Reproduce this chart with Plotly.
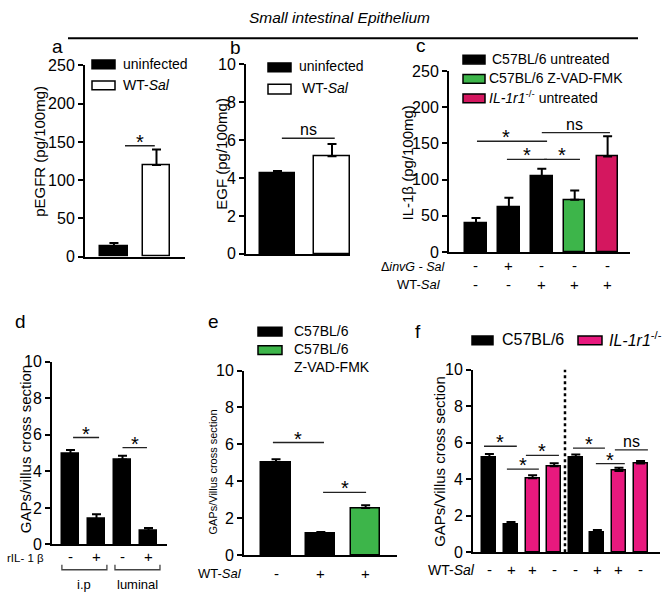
import plotly.graph_objects as go

W, H = 663, 604
FONT = "Liberation Sans, Arial, sans-serif"

# ---------------- data ----------------
a_groups = ["uninfected", "WT-<i>Sal</i>"]
a_vals = [14, 120]
a_err = [4, 20]

b_groups = ["uninfected", "WT-<i>Sal</i>"]
b_vals = [4.25, 5.15]
b_err = [0.12, 0.65]

c_groups = ["C57BL/6 untreated", "C57BL/6 Z-VAD-FMK", "<i>IL-1r1</i><sup>-/-</sup> untreated"]
c_vals = [40, 62, 105, 72, 132]
c_err = [7, 13, 10, 13, 28]
c_invg = ["-", "+", "-", "-", "-"]
c_wt = ["-", "-", "+", "+", "+"]

d_vals = [4.95, 1.4, 4.65, 0.75]
d_err = [0.22, 0.25, 0.2, 0.15]
d_ril = ["-", "+", "-", "+"]
d_routes = ["i.p", "luminal"]

e_groups = ["C57BL/6", "C57BL/6<br>Z-VAD-FMK"]
e_vals = [5.0, 1.15, 2.55]
e_err = [0.2, 0.1, 0.15]
e_wt = ["-", "+", "+"]

f_groups = ["C57BL/6", "<i>IL-1r1</i><sup>-/-</sup>"]
f_vals = [5.2, 1.5, 4.05, 4.7, 5.2, 1.1, 4.45, 4.85]
f_err = [0.18, 0.15, 0.17, 0.17, 0.15, 0.12, 0.17, 0.15]
f_wt = ["-", "+", "+", "-", "-", "+", "+", "-"]
f_conditions = ["Intra-luminal<br>infection<br>1 hour", "2 Days post<br>Oral infection"]

BLACK = "#000000"
GREEN = "#3DB54A"
PINK_C = "#D4175F"
PINK_F = "#E8197E"

def px(x):
    return x / W

def py(y):
    return 1 - y / H

fig = go.Figure()
shapes = []
ann = []

panels = {
    "a": dict(xd=(85, 185), yd=(59, 256), xr=(-0.68, 1.67), yr=(0, 250), tv=[0, 50, 100, 150, 200, 250]),
    "b": dict(xd=(246, 350), yd=(58, 253), xr=(-0.578, 1.33), yr=(0, 10), tv=[0, 2, 4, 6, 8, 10]),
    "c": dict(xd=(449, 630), yd=(65, 251), xr=(-0.82, 4.68), yr=(0, 250), tv=[0, 50, 100, 150, 200, 250]),
    "d": dict(xd=(52, 167), yd=(364, 552), xr=(-0.71, 3.71), yr=(0, 10), tv=[0, 2, 4, 6, 8, 10]),
    "e": dict(xd=(244, 397), yd=(373, 563), xr=(-0.715, 2.70), yr=(0, 10), tv=[0, 2, 4, 6, 8, 10]),
    "f": dict(xd=(473, 660), yd=(372, 560), xr=(-0.76, 7.9), yr=(0, 10), tv=[0, 2, 4, 6, 8, 10]),
}
order = ["a", "b", "c", "d", "e", "f"]
ids = {}
for i, k in enumerate(order):
    sfx = "" if i == 0 else str(i + 1)
    ids[k] = ("x" + sfx, "y" + sfx, "xaxis" + sfx, "yaxis" + sfx)

layout_axes = {}
for k in order:
    p = panels[k]
    xid, yid, xname, yname = ids[k]
    layout_axes[xname] = dict(
        domain=[px(p["xd"][0]), px(p["xd"][1])], range=list(p["xr"]), anchor=yid,
        showline=True, linewidth=2, linecolor="black", showticklabels=False,
        ticks="", showgrid=False, zeroline=False, fixedrange=True)
    layout_axes[yname] = dict(
        domain=[py(p["yd"][1]), py(p["yd"][0])], range=list(p["yr"]), anchor=xid,
        showline=True, linewidth=2, linecolor="black", tickvals=p["tv"],
        ticks="outside", ticklen=5, tickwidth=2, tickcolor="black",
        tickfont=dict(family=FONT, size=16, color="black"),
        showgrid=False, zeroline=False, fixedrange=True)


def bars(k, vals, err, colors):
    xid, yid, _, _ = ids[k]
    n = len(vals)
    fig.add_trace(go.Bar(
        x=list(range(n)), y=vals, width=0.65, xaxis=xid, yaxis=yid,
        marker=dict(color=colors, line=dict(color="black", width=1.5)),
        error_y=dict(type="data", array=err, arrayminus=[0] * n, symmetric=False,
                     color="black", thickness=2, width=4.5),
        showlegend=False, hoverinfo="skip"))


def sig(k, x0, x1, y, text, tx=None, size=20):
    xid, yid, _, _ = ids[k]
    shapes.append(dict(type="line", xref=xid, yref=yid, x0=x0, x1=x1, y0=y, y1=y,
                       line=dict(color="#222", width=1.4)))
    if tx is None:
        tx = (x0 + x1) / 2
    if text == "*":
        ann.append(dict(xref=xid, yref=yid, x=tx, y=y, text="*", showarrow=False,
                        yanchor="bottom", yshift=-9, font=dict(family=FONT, size=size, color="black")))
    else:
        ann.append(dict(xref=xid, yref=yid, x=tx, y=y, text=text, showarrow=False,
                        yanchor="bottom", yshift=-2, font=dict(family=FONT, size=16, color="black")))


def text(x, y, t, size=14, xanchor="center", yanchor="middle", angle=0, xref="paper", yref="paper", align="center"):
    ann.append(dict(xref=xref, yref=yref, x=x, y=y, text=t, showarrow=False, xanchor=xanchor,
                    yanchor=yanchor, textangle=angle, align=align,
                    font=dict(family=FONT, size=size, color="black")))


def swatch(x0, x1, yc, h, color):
    shapes.append(dict(type="rect", xref="paper", yref="paper", x0=px(x0), x1=px(x1),
                       y0=py(yc + h / 2), y1=py(yc - h / 2), fillcolor=color,
                       line=dict(color="black", width=1.5)))


# ---------------- title ----------------
text(px(340), py(10), "<i>Small intestinal Epithelium</i>", size=15.5)
shapes.append(dict(type="line", xref="paper", yref="paper", x0=px(68), x1=px(638),
                   y0=py(31), y1=py(31), line=dict(color="black", width=2)))

for lab, x, y in [("a", 57, 40), ("b", 235, 41), ("c", 421, 39), ("d", 20, 323), ("e", 213, 323), ("f", 418, 333)]:
    text(px(x), py(y), lab, size=19)

# ---------------- panel a ----------------
bars("a", a_vals, a_err, [BLACK, "white"])
sig("a", 0.26, 0.96, 145, "*")
swatch(92, 115, 58, 9, BLACK)
swatch(92, 115, 79.5, 9, "white")
text(px(121), py(57.5), a_groups[0], xanchor="left")
text(px(121), py(79), a_groups[1], xanchor="left")
text(px(40), py(148), "pEGFR (pg/100mg)", size=15, angle=-90)

# ---------------- panel b ----------------
bars("b", b_vals, b_err, [BLACK, "white"])
sig("b", 0.08, 1.05, 6.1, "ns")
swatch(268, 291, 61, 9, BLACK)
swatch(268, 291, 83.5, 10, "white")
text(px(297), py(60), b_groups[0], xanchor="left")
text(px(300), py(82.5), b_groups[1], xanchor="left")
text(px(222), py(150), "EGF (pg/100mg)", size=15, angle=-90)

# ---------------- panel c ----------------
bars("c", c_vals, c_err, [BLACK, BLACK, BLACK, GREEN, PINK_C])
sig("c", 0.03, 2.16, 153, "*", tx=0.9)
sig("c", 0.94, 2.16, 128, "*", tx=1.55)
sig("c", 2.07, 3.16, 128, "*", tx=2.6)
sig("c", 2.0, 4.07, 165, "ns", tx=3.0)
for yc, col, lab, x0 in [(53, BLACK, c_groups[0], 490), (73, GREEN, c_groups[1], 487), (93, PINK_C, c_groups[2], 487)]:
    swatch(463, 485, yc, 9, col)
    text(px(x0), py(yc - 1), lab, xanchor="left")
text(px(407), py(160), "IL-1β (pg/100mg)", size=15, angle=-90)
xc = ids["c"][0]
for i, (s1, s2) in enumerate(zip(c_invg, c_wt)):
    text(i, py(265), s1, size=15, xref=xc)
    text(i, py(285), s2, size=15, xref=xc)
text(px(413), py(266), "Δ<i>invG - Sal</i>", size=12.5)
text(px(419), py(285), "WT-<i>Sal</i>", size=13)

# ---------------- panel d ----------------
bars("d", d_vals, d_err, [BLACK] * 4)
sig("d", 0.1, 1.1, 5.85, "*")
sig("d", 2.0, 2.94, 5.3, "*")
text(px(25), py(454), "GAPs/villus cross section", size=15, angle=-90)
xd = ids["d"][0]
for i, s in enumerate(d_ril):
    text(i, py(564), s, size=15, xref=xd)
text(px(46), py(566), "rIL- 1 β", size=11.5, xanchor="right")
for (b0, b1), lab in zip([(-0.33, 1.4), (1.71, 3.44)], d_routes):
    shapes.append(dict(type="path", xref=xd, yref="paper",
                       path=f"M {b0},{py(573)} L {b0},{py(578)} L {b1},{py(578)} L {b1},{py(573)}",
                       line=dict(color="#444", width=1.3)))
    text((b0 + b1) / 2, py(593), lab, size=13, xref=xd)

# ---------------- panel e ----------------
bars("e", e_vals, e_err, [BLACK, BLACK, GREEN])
sig("e", -0.07, 1.07, 6.1, "*")
sig("e", 1.05, 2.01, 3.4, "*")
swatch(258, 282, 333, 9, BLACK)
swatch(258, 282, 352, 9, GREEN)
text(px(292), py(332), e_groups[0], xanchor="left")
text(px(292), py(360), e_groups[1], xanchor="left", align="left")
text(px(213), py(478), "GAPs/Villus cross section", size=11, angle=-90)
xe = ids["e"][0]
for i, s in enumerate(e_wt):
    text(i, py(582), s, size=15, xref=xe)
text(px(220), py(582), "WT-<i>Sal</i>", size=13)

# ---------------- panel f ----------------
bars("f", f_vals, f_err, [BLACK, BLACK, PINK_F, PINK_F, BLACK, BLACK, PINK_F, PINK_F])
sig("f", -0.25, 1.27, 5.8, "*")
sig("f", 0.81, 2.29, 4.55, "*")
sig("f", 1.69, 3.22, 5.3, "*")
sig("f", 3.87, 5.35, 5.7, "*")
sig("f", 4.93, 6.27, 4.85, "*")
sig("f", 5.81, 7.34, 5.6, "ns")
xf, yf = ids["f"][0], ids["f"][1]
shapes.append(dict(type="line", xref=xf, yref=yf, x0=3.5, x1=3.5, y0=0, y1=10,
                   line=dict(color="black", width=2.5, dash="dot")))
ann.append(dict(xref=xf, yref=yf, x=1.09, y=10.3, text=f_conditions[0], showarrow=False,
                yanchor="top", font=dict(family=FONT, size=14, color="black")))
ann.append(dict(xref=xf, yref=yf, x=5.95, y=10.3, text=f_conditions[1], showarrow=False,
                yanchor="top", font=dict(family=FONT, size=14, color="black")))
swatch(472, 493, 342, 9, BLACK)
swatch(578, 602, 342, 9, PINK_F)
text(px(500), py(341), f_groups[0], size=16, xanchor="left")
text(px(607), py(341), f_groups[1], size=16, xanchor="left")
text(px(440), py(467), "GAPs/Villus cross section", size=15, angle=-90)
for i, s in enumerate(f_wt):
    text(i, py(578), s, size=15, xref=xf)
text(px(477), py(578), "WT-<i>Sal</i>", size=14, xanchor="right")

fig.update_layout(
    width=W, height=H, margin=dict(l=0, r=0, t=0, b=0),
    paper_bgcolor="white", plot_bgcolor="rgba(0,0,0,0)",
    font=dict(family=FONT, color="black"),
    bargap=0, showlegend=False, shapes=shapes, annotations=ann, **layout_axes)

fig.write_html("out.html", config={"displayModeBar": False},
               post_script="document.body.style.margin='0px';document.body.style.overflow='hidden';")
